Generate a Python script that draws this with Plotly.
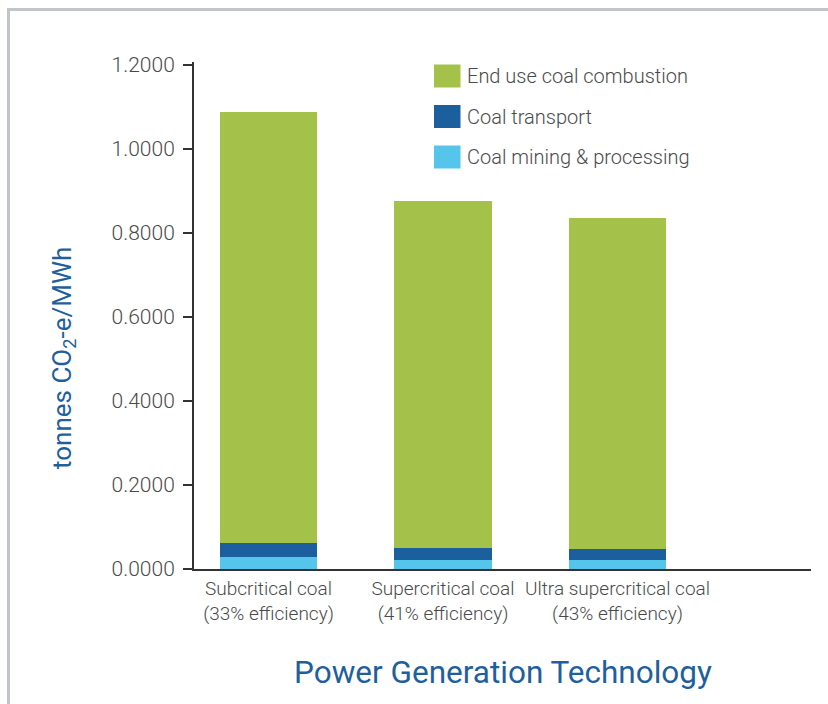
import plotly.graph_objects as go

# Emission intensity by coal power technology (tonnes CO2-e per MWh)
technologies = ["Subcritical coal<br>(33% efficiency)",
                "Supercritical coal<br>(41% efficiency)",
                "Ultra supercritical coal<br>(43% efficiency)"]
mining = [0.029, 0.022, 0.021]
transport = [0.033, 0.028, 0.027]
combustion = [1.026, 0.826, 0.788]

series_names = ["Coal mining & processing", "Coal transport", "End use coal combustion"]
series_colors = ["#55c5eb", "#1c5f9e", "#a4c14a"]
series_values = [mining, transport, combustion]

y_ticks = [0, 0.2, 0.4, 0.6, 0.8, 1.0, 1.2]

W, H = 828, 704
L, R, T, B = 194, 17, 62, 135
PW, PH = W - L - R, H - T - B

def px_x(x):
    return (x - L) / PW

def px_y(y):
    return (H - B - y) / PH

FONT = "Roboto"
TEXT = "#4a4a4a"
BLUE = "#1f5f9e"

fig = go.Figure()
for name, color, vals in zip(series_names, series_colors, series_values):
    fig.add_trace(go.Bar(x=list(range(len(technologies))), y=vals, name=name,
                         marker=dict(color=color, line=dict(width=0)),
                         showlegend=False))

shapes = []
annotations = []

# legend drawn as swatches plus labels, top entry first
legend_rows = [76, 116.5, 157]
for row, name, color in zip(legend_rows, series_names[::-1], series_colors[::-1]):
    shapes.append(dict(type="rect", xref="paper", yref="paper",
                       x0=px_x(434), x1=px_x(460.5),
                       y0=px_y(row - 11.5), y1=px_y(row + 11.5),
                       fillcolor=color, line=dict(width=0)))
    annotations.append(dict(x=px_x(465), y=px_y(row), xref="paper", yref="paper",
                            text=name, showarrow=False, xanchor="left", yanchor="middle",
                            font=dict(family=FONT, size=20, color=TEXT, weight=300)))

# grey frame along top and left edges
shapes.append(dict(type="line", xref="paper", yref="paper",
                   x0=px_x(8.5), x1=px_x(W + 5), y0=px_y(9.5), y1=px_y(9.5),
                   line=dict(color="#c0c5c9", width=3)))
shapes.append(dict(type="line", xref="paper", yref="paper",
                   x0=px_x(8.5), x1=px_x(8.5), y0=px_y(8), y1=px_y(H + 5),
                   line=dict(color="#c0c5c9", width=3)))

annotations.append(dict(x=px_x(63), y=px_y(358), xref="paper", yref="paper",
                        text="tonnes CO<sub>2</sub>-e/MWh", textangle=-90, showarrow=False,
                        xanchor="center", yanchor="middle",
                        font=dict(family=FONT, size=26, color=BLUE)))
annotations.append(dict(x=0.5, y=px_y(672), xref="paper", yref="paper",
                        text="Power Generation Technology", showarrow=False,
                        xanchor="center", yanchor="middle",
                        font=dict(family=FONT, size=31.5, color=BLUE)))

fig.update_layout(
    width=W, height=H,
    margin=dict(l=L, r=R, t=T, b=B, pad=0, autoexpand=False),
    barmode="stack", bargap=0.444,
    plot_bgcolor="white", paper_bgcolor="white",
    shapes=shapes, annotations=annotations,
    xaxis=dict(range=[-0.427, 3.109], tickmode="array",
               tickvals=list(range(len(technologies))), ticktext=technologies,
               tickangle=0, automargin=False,
               showline=True, linecolor="#333333", linewidth=2,
               ticks="", showgrid=False, zeroline=False, ticklabelstandoff=1,
               tickfont=dict(family=FONT, size=19, color=TEXT, weight=300)),
    yaxis=dict(range=[0, 1.207], tickmode="array", tickvals=y_ticks, automargin=False,
               tickformat=".4f", showline=True, linecolor="#333333", linewidth=2,
               ticks="outside", ticklen=9, tickwidth=2, tickcolor="#333333",
               showgrid=False, zeroline=False, ticklabelstandoff=4,
               tickfont=dict(family=FONT, size=21, color=TEXT, weight=300)),
)

fig.write_html("out.html")
